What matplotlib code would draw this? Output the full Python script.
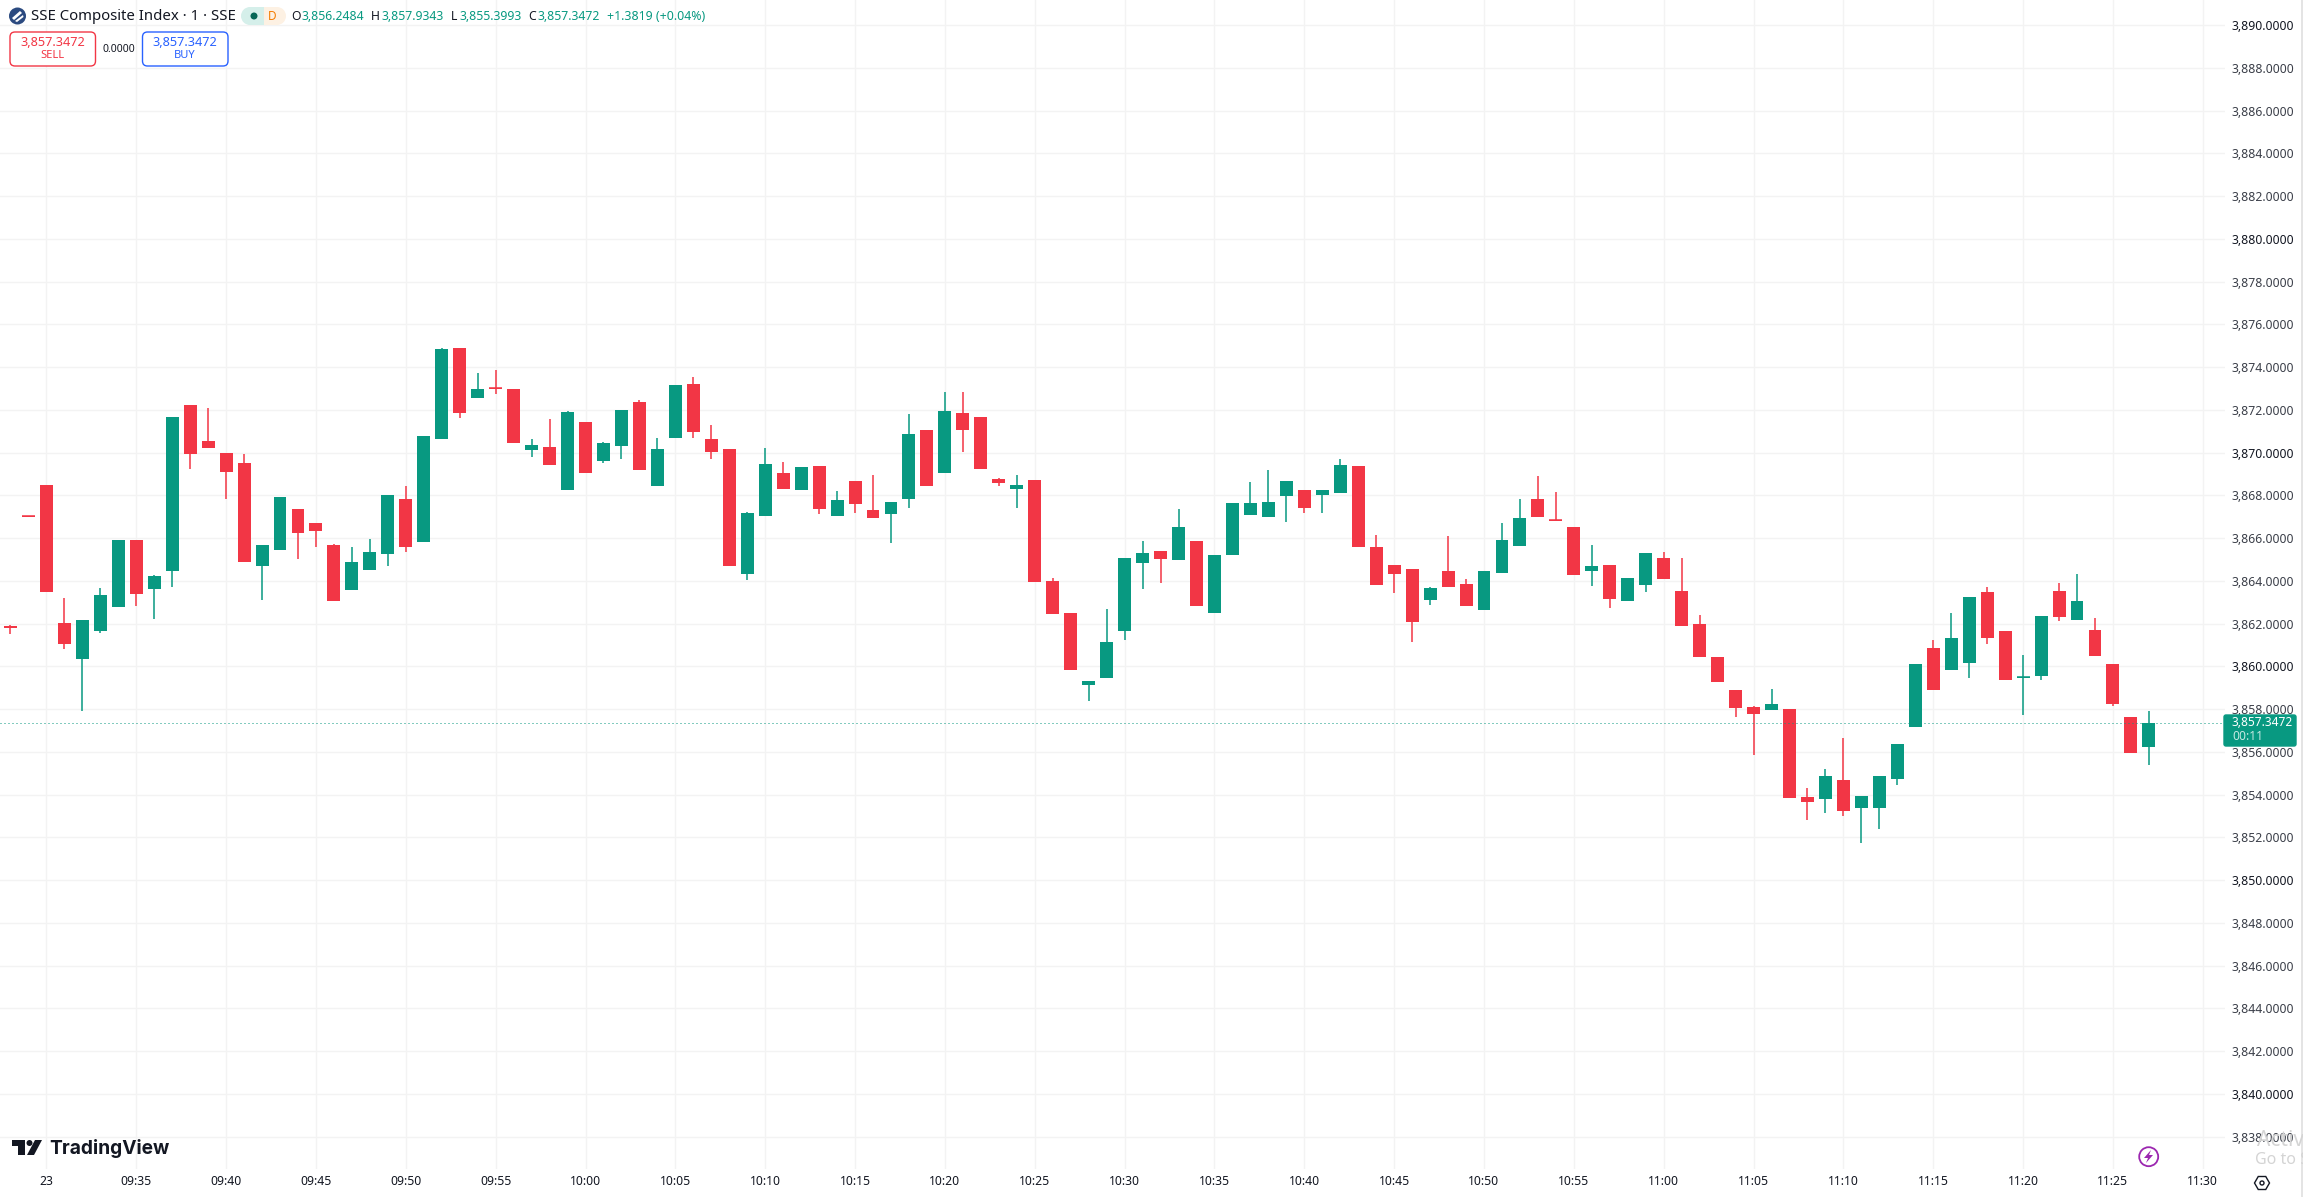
import numpy as np
import matplotlib
matplotlib.use("Agg")
import matplotlib.pyplot as plt
from matplotlib.patches import Circle, FancyBboxPatch, Polygon, Rectangle, RegularPolygon
from matplotlib.ticker import FixedLocator, FuncFormatter

plt.rcParams["font.family"] = ["Noto Sans", "DejaVu Sans"]

# one-minute bars
opens = [
    3861.90, 3867.04, 3868.49, 3862.04, 3860.35, 3861.66, 3862.79, 3865.92, 3863.63, 3864.47,
    3872.24, 3870.55, 3869.99, 3869.52, 3864.70, 3865.45, 3867.37, 3866.72, 3865.69, 3863.58,
    3864.52, 3865.27, 3867.84, 3865.83, 3870.65, 3874.90, 3872.56, 3873.03, 3872.98, 3870.13,
    3870.27, 3868.26, 3871.44, 3869.62, 3870.32, 3872.38, 3868.45, 3870.69, 3873.22, 3870.65,
    3870.18, 3864.33, 3867.04, 3869.05, 3868.26, 3869.38, 3867.04, 3868.68, 3867.32, 3867.14,
    3867.84, 3871.07, 3869.05, 3871.86, 3871.67, 3868.77, 3868.31, 3868.73, 3864.00, 3862.51,
    3859.14, 3859.46, 3861.66, 3864.84, 3865.41, 3864.98, 3865.87, 3862.51, 3865.22, 3867.09,
    3867.00, 3867.98, 3868.26, 3868.03, 3868.12, 3869.38, 3865.59, 3864.75, 3864.56, 3863.11,
    3864.47, 3863.86, 3862.65, 3864.38, 3865.64, 3867.84, 3866.86, 3866.53, 3864.47, 3864.75,
    3863.07, 3863.81, 3865.08, 3863.53, 3861.99, 3860.45, 3858.90, 3858.11, 3857.97, 3858.01,
    3853.90, 3853.80, 3854.69, 3853.38, 3853.38, 3854.74, 3857.17, 3860.87, 3859.84, 3860.16,
    3863.49, 3861.66, 3859.46, 3859.56, 3863.53, 3862.18, 3861.71, 3860.12, 3857.64, 3856.2484,
]
highs = [
    3861.94, 3867.04, 3868.49, 3863.21, 3862.18, 3863.67, 3865.92, 3865.92, 3864.28, 3871.67,
    3872.24, 3872.10, 3869.99, 3869.94, 3865.69, 3867.93, 3867.37, 3866.72, 3865.73, 3865.59,
    3865.97, 3868.03, 3868.45, 3870.79, 3874.90, 3874.90, 3873.73, 3873.87, 3872.98, 3870.65,
    3871.58, 3871.96, 3871.44, 3870.51, 3872.00, 3872.47, 3870.69, 3873.17, 3873.55, 3871.30,
    3870.18, 3867.23, 3870.22, 3869.57, 3869.33, 3869.38, 3868.21, 3868.68, 3868.96, 3867.70,
    3871.81, 3871.07, 3872.84, 3872.84, 3871.67, 3868.82, 3868.96, 3868.73, 3864.14, 3862.51,
    3859.32, 3862.69, 3865.08, 3865.87, 3865.41, 3867.37, 3865.87, 3865.22, 3867.65, 3868.63,
    3869.20, 3868.68, 3868.26, 3868.26, 3869.71, 3869.38, 3866.15, 3864.75, 3864.56, 3863.72,
    3866.11, 3864.10, 3864.47, 3866.72, 3867.84, 3868.91, 3868.17, 3866.53, 3865.69, 3864.75,
    3864.14, 3865.31, 3865.36, 3865.08, 3862.41, 3860.45, 3858.90, 3858.15, 3858.95, 3858.01,
    3854.32, 3855.21, 3856.66, 3853.94, 3854.88, 3856.37, 3860.12, 3861.24, 3862.50, 3863.25,
    3863.72, 3861.66, 3860.54, 3862.36, 3863.91, 3864.33, 3862.27, 3860.12, 3857.64, 3857.9343,
]
lows = [
    3861.52, 3867.00, 3863.49, 3860.82, 3857.92, 3861.57, 3862.79, 3862.83, 3862.22, 3863.72,
    3869.24, 3870.22, 3867.84, 3864.89, 3863.11, 3865.45, 3865.03, 3865.59, 3863.07, 3863.58,
    3864.52, 3864.70, 3865.36, 3865.83, 3870.65, 3871.63, 3872.56, 3872.75, 3870.46, 3869.80,
    3869.43, 3868.26, 3869.05, 3869.52, 3869.71, 3869.20, 3868.45, 3870.69, 3870.69, 3869.71,
    3864.70, 3864.05, 3867.04, 3868.31, 3868.26, 3867.14, 3867.04, 3867.18, 3866.95, 3865.78,
    3867.42, 3868.45, 3869.05, 3870.04, 3869.24, 3868.45, 3867.42, 3863.96, 3862.46, 3859.84,
    3858.39, 3859.46, 3861.24, 3863.63, 3863.91, 3864.98, 3862.83, 3862.51, 3865.22, 3867.09,
    3867.00, 3866.76, 3867.18, 3867.18, 3868.12, 3865.59, 3863.81, 3863.44, 3861.15, 3862.88,
    3863.72, 3862.83, 3862.65, 3864.38, 3865.64, 3867.00, 3866.81, 3864.28, 3863.77, 3862.74,
    3863.07, 3863.49, 3864.09, 3861.90, 3860.45, 3859.28, 3857.64, 3855.86, 3857.97, 3853.85,
    3852.82, 3853.15, 3853.01, 3851.74, 3852.40, 3854.46, 3857.17, 3858.90, 3859.84, 3859.46,
    3861.05, 3859.37, 3857.73, 3859.37, 3862.13, 3862.18, 3860.49, 3858.15, 3855.95, 3855.3993,
]
closes = [
    3861.80, 3867.00, 3863.49, 3861.05, 3862.18, 3863.35, 3865.92, 3863.39, 3864.24, 3871.67,
    3869.94, 3870.22, 3869.10, 3864.89, 3865.69, 3867.93, 3866.25, 3866.34, 3863.07, 3864.89,
    3865.36, 3868.03, 3865.59, 3870.79, 3874.86, 3871.86, 3872.98, 3872.98, 3870.46, 3870.36,
    3869.43, 3871.91, 3869.05, 3870.46, 3872.00, 3869.20, 3870.18, 3873.17, 3870.97, 3870.04,
    3864.70, 3867.18, 3869.48, 3868.31, 3869.33, 3867.37, 3867.79, 3867.60, 3866.95, 3867.70,
    3870.88, 3868.45, 3871.96, 3871.07, 3869.24, 3868.59, 3868.49, 3863.96, 3862.46, 3859.84,
    3859.32, 3861.15, 3865.08, 3865.31, 3865.03, 3866.53, 3862.83, 3865.22, 3867.65, 3867.65,
    3867.70, 3868.68, 3867.42, 3868.26, 3869.43, 3865.59, 3863.81, 3864.33, 3862.08, 3863.67,
    3863.72, 3862.83, 3864.47, 3865.92, 3866.95, 3867.00, 3866.81, 3864.28, 3864.70, 3863.16,
    3864.14, 3865.31, 3864.09, 3861.90, 3860.45, 3859.28, 3858.06, 3857.78, 3858.25, 3853.85,
    3853.66, 3854.88, 3853.24, 3853.94, 3854.88, 3856.37, 3860.12, 3858.90, 3861.33, 3863.25,
    3861.33, 3859.37, 3859.51, 3862.36, 3862.32, 3863.07, 3860.49, 3858.25, 3855.95, 3857.3472,
]

x_ticks = list(range(2, 123, 5))
x_labels = ["23", "09:35", "09:40", "09:45", "09:50", "09:55", "10:00", "10:05", "10:10",
            "10:15", "10:20", "10:25", "10:30", "10:35", "10:40", "10:45", "10:50", "10:55",
            "11:00", "11:05", "11:10", "11:15", "11:20", "11:25", "11:30"]
y_ticks = list(range(3838, 3891, 2))
last_price = 3857.3472

UP = "#089981"
DOWN = "#F23645"
BLUE = "#2962FF"
INK = "#131722"
W, H = 2303, 1197


def fx(px):
    return px / W


def fy(py):
    return 1 - py / H


def ftext(px, py, s, **kw):
    kw.setdefault("va", "center")
    kw.setdefault("color", INK)
    kw.setdefault("fontsize", 9)
    return fig.text(fx(px), fy(py), s, **kw)


def fpoly(points, color):
    pts = [(fx(a), fy(b)) for a, b in points]
    fig.add_artist(Polygon(pts, closed=True, transform=fig.transFigure, fc=color, ec="none"))


def frame(x0, y0, x1, y1, fc, ec, rounding=5):
    # rounded box given in picture pixels, drawn over the axes
    box = FancyBboxPatch((x0, H - y1), x1 - x0, y1 - y0,
                         boxstyle=f"round,pad=0,rounding_size={rounding}",
                         transform=None, fc=fc, ec=ec, lw=1.0)
    fig.add_artist(box)


fig = plt.figure(figsize=(W / 100, H / 100), dpi=100, facecolor="white")
ax = fig.add_axes([0, 1 - 1169 / H, 2225 / W, 1169 / H])

x = np.arange(len(opens))
o, h, l, c = map(np.array, (opens, highs, lows, closes))
colors = [UP if cl >= op else DOWN for op, cl in zip(o, c)]

ax.vlines(x, l, h, colors=colors, lw=1.1, zorder=3)
ax.bar(x, np.abs(c - o), bottom=np.minimum(o, c), width=0.72, color=colors, lw=0, zorder=4)
# very thin bodies would fade out when antialiased
thin = np.abs(c - o) < 0.1
ax.hlines(((o + c) / 2)[thin], x[thin] - 0.36, x[thin] + 0.36, colors=np.array(colors)[thin], lw=1.1, zorder=4)

ax.axhline(last_price, color=UP, lw=0.72, ls=(0, (1, 3)), zorder=5)

ax.set_xlim(-0.582, 123.235)
ax.set_ylim(3836.49, 3891.18)
ax.grid(True, color="#F3F3F3", lw=1.0)
ax.set_axisbelow(True)
for s in ax.spines.values():
    s.set_visible(False)

ax.xaxis.set_major_locator(FixedLocator(x_ticks))
ax.set_xticklabels(x_labels)
ax.yaxis.tick_right()
ax.yaxis.set_major_locator(FixedLocator(y_ticks))
ax.yaxis.set_major_formatter(FuncFormatter(lambda v, pos: f"{v:,.4f}"))
ax.tick_params(axis="x", length=0, pad=4, labelsize=8.8, labelcolor=INK)
ax.tick_params(axis="y", length=0, pad=5, labelsize=8.8)
for lab, v in zip(ax.get_yticklabels(), y_ticks):
    lab.set_color(INK if v % 10 == 0 else "#3B3F49")
ax.get_xticklabels()[0].set_fontweight("bold")

# header
fig.add_artist(Circle((17.5, H - 16), 8.5, transform=None, fc="#2B4A80", ec="none"))
fpoly([(12, 18), (20, 11), (22, 13), (14, 20)], "white")
fpoly([(15, 21), (23, 15), (23.5, 17), (17, 22)], "white")
ftext(31, 16, "SSE Composite Index · 1 · SSE", fontsize=10.75)
fig.add_artist(Rectangle((250, H - 25), 14, 18, transform=None, fc="#D5EFEA", ec="none"))
fig.add_artist(Circle((250, H - 16), 9, transform=None, fc="#D5EFEA", ec="none"))
fig.add_artist(Rectangle((264, H - 25), 13, 18, transform=None, fc="#FDF1E3", ec="none"))
fig.add_artist(Circle((277, H - 16), 9, transform=None, fc="#FDF1E3", ec="none"))
fig.add_artist(Circle((254, H - 16), 3.5, transform=None, fc="#056656", ec="none"))
ftext(272, 16, "D", color="#F57C00", ha="center", fontsize=8.5, fontweight="bold")

for lx, letter, vx, val in [(291, "O", 301, "3,856.2484"), (371, "H", 381, "3,857.9343"),
                            (451, "L", 459, "3,855.3993"), (528, "C", 538, "3,857.3472")]:
    ftext(lx, 16, letter, fontsize=8.8)
    ftext(vx, 16, val, color=UP, fontsize=8.8)
ftext(607, 16, "+1.3819 (+0.04%)", color=UP, fontsize=8.9)

frame(10, 32, 95.5, 66, "white", DOWN)
ftext(52.5, 42, "3,857.3472", color=DOWN, ha="center", fontsize=9.2)
ftext(52.5, 56, "SELL", color=DOWN, ha="center", fontsize=8)
ftext(119, 49, "0.0000", ha="center", fontsize=7.5)
frame(142.5, 32, 228, 66, "white", BLUE)
ftext(185, 42, "3,857.3472", color=BLUE, ha="center", fontsize=9.2)
ftext(185, 56, "BUY", color=BLUE, ha="center", fontsize=8)

# last price tag
frame(2224, 715, 2296, 746, UP, UP, rounding=2)
ftext(2232, 723, "3,857.3472", color="white", fontsize=8.6, fontweight="bold")
ftext(2232, 737, "00:11", color="#C4E8E1", fontsize=8.8)

# TradingView mark
fpoly([(12, 1140), (25, 1140), (25, 1155), (18, 1155), (18, 1146), (12, 1146)], INK)
fig.add_artist(Circle((29.5, H - 1143), 3, transform=None, fc=INK, ec="none"))
fpoly([(35, 1140), (42, 1140), (34, 1155), (27, 1155)], INK)
ftext(49, 1148, "TradingView", fontsize=13.8, fontweight="bold", family=["Inter", "DejaVu Sans"])

# lightning badge
fig.add_artist(Circle((2148.7, H - 1156.7), 9.5, transform=None, fc="white", ec="#9C27B0", lw=1.3))
fpoly([(2151, 1150), (2144, 1158), (2148, 1158), (2146, 1163), (2153, 1155), (2149, 1155)], "#9C27B0")

# watermark, cut off by the screen edge
ftext(2257, 1140, "Activa", color="#D4D4D4", fontsize=15)
ftext(2255, 1160, "Go to S", color="#D4D4D4", fontsize=11.5)

# settings glyph and window edge
fig.add_artist(RegularPolygon((2262, H - 1183), 6, radius=7.5, orientation=np.pi / 6, transform=None,
                              fc="white", ec=INK, lw=1.0))
fig.add_artist(Circle((2262, H - 1183), 2, transform=None, fc="white", ec=INK, lw=1.0))
fig.add_artist(Rectangle((2301, 0), 2, H, transform=None, fc="#E4E4E4", ec="none"))

fig.savefig("out.png", dpi=100)
